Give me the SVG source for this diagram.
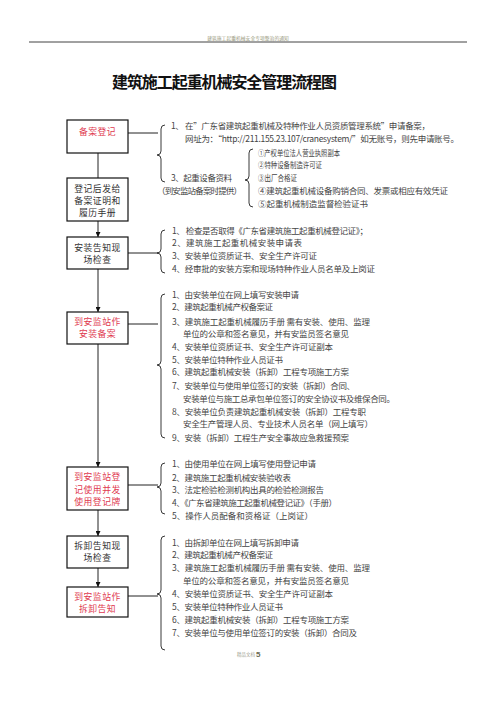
<svg xmlns="http://www.w3.org/2000/svg" width="496" height="702" viewBox="0 0 496 702">
<style>
.t{font-family:"Noto Sans CJK SC","Noto Sans",sans-serif;font-size:8.5px;fill:#444}
.b{font-family:"Noto Sans CJK SC","Noto Sans",sans-serif;font-size:8.8px;letter-spacing:0.5px;fill:#333;text-anchor:middle}
.r{fill:#e0394f}
.box{fill:#fff;stroke:#111;stroke-width:1.2}
.ln{fill:none;stroke:#222;stroke-width:1}
.br{fill:none;stroke:#222;stroke-width:0.9}
</style>
<defs>
<marker id="ah" viewBox="0 0 10 10" refX="10" refY="5" markerWidth="5" markerHeight="5" orient="auto" markerUnits="userSpaceOnUse">
<path d="M0,0 L10,5 L0,10 z" fill="#111"/>
</marker>
</defs>
<rect width="496" height="702" fill="#fff"/>
<text x="248" y="40" style="font-family:'Noto Sans CJK SC',sans-serif;font-size:4.8px;fill:#9a9a80;text-anchor:middle">建筑施工起重机械安全专项整治的通知</text>
<line x1="29" y1="42" x2="467" y2="42" stroke="#111" stroke-width="0.8"/>
<text x="112" y="88" style="font-family:'Noto Sans CJK SC',sans-serif;font-size:16px;font-weight:bold;fill:#111" textLength="225">建筑施工起重机械安全管理流程图</text>

<g id="connectors">
<line class="ln" x1="98" y1="153" x2="98" y2="178"/>
<line class="ln" x1="98" y1="221" x2="98" y2="237" marker-end="url(#ah)"/>
<line class="ln" x1="98" y1="269" x2="98" y2="312" marker-end="url(#ah)"/>
<line class="ln" x1="98" y1="344" x2="98" y2="467" marker-end="url(#ah)"/>
<line class="ln" x1="98" y1="510" x2="98" y2="536" marker-end="url(#ah)"/>
<line class="ln" x1="98" y1="568" x2="98" y2="587" marker-end="url(#ah)"/>
<line class="ln" x1="128" y1="133" x2="158" y2="133"/>
<line class="ln" x1="128" y1="253" x2="158" y2="253"/>
<line class="ln" x1="128" y1="324" x2="158" y2="324"/>
<line class="ln" x1="128" y1="485" x2="158" y2="485"/>
<line class="ln" x1="128" y1="596" x2="158" y2="596"/>
<path class="br" d="M165,125 Q161,125 161,129 L161,151 Q161,155 157,155 Q161,155 161,159 L161,178 Q161,182 165,182"/>
<path class="br" d="M253,149 Q249,149 249,153 L249,176 Q249,180 245,180 Q249,180 249,184 L249,203 Q249,207 253,207"/>
<path class="br" d="M165,230 Q161,230 161,234 L161,249 Q161,253 157,253 Q161,253 161,257 L161,269 Q161,273 165,273"/>
<path class="br" d="M165,294 Q161,294 161,298 L161,361 Q161,365 157,365 Q161,365 161,369 L161,434 Q161,438 165,438"/>
<path class="br" d="M165,463 Q161,463 161,467 L161,483 Q161,487 157,487 Q161,487 161,491 L161,510 Q161,514 165,514"/>
<path class="br" d="M165,536 Q161,536 161,540 L161,590 Q161,594 157,594 Q161,594 161,598 L161,646 Q161,650 165,650"/>
</g>

<g id="n1"><rect class="box" x="67" y="120" width="61" height="33"/><text class="b r" x="97.5" y="134.5">备案登记</text></g>
<g id="n2"><rect class="box" x="67" y="178" width="61" height="43"/>
<text class="b" x="97.5" y="192">登记后发给</text><text class="b" x="97.5" y="204">备案证明和</text><text class="b" x="97.5" y="216">履历手册</text></g>
<g id="n3"><rect class="box" x="67" y="237" width="61" height="32"/>
<text class="b" x="97.5" y="250.5">安装告知现</text><text class="b" x="97.5" y="262.5">场检查</text></g>
<g id="n4"><rect class="box" x="67" y="312" width="61" height="32"/>
<text class="b r" x="97.5" y="324.5">到安监站作</text><text class="b r" x="97.5" y="336.5">安装备案</text></g>
<g id="n5"><rect class="box" x="67" y="467" width="61" height="43"/>
<text class="b r" x="97.5" y="480">到安监站登</text><text class="b r" x="97.5" y="492.5">记使用并发</text><text class="b r" x="97.5" y="505">使用登记牌</text></g>
<g id="n6"><rect class="box" x="67" y="536" width="61" height="32"/>
<text class="b" x="97.5" y="548.5">拆卸告知现</text><text class="b" x="97.5" y="560.5">场检查</text></g>
<g id="n7"><rect class="box" x="67" y="587" width="61" height="30"/>
<text class="b r" x="97.5" y="599.5">到安监站作</text><text class="b r" x="97.5" y="612">拆卸告知</text></g>

<g id="list1">
<text class="t" x="171" y="129" textLength="259">1、 在”广东省建筑起重机械及特种作业人员资质管理系统”申请备案，</text>
<text class="t" x="185" y="142" textLength="274">网址为：“http://211.155.23.107/cranesystem/”如无账号，则先申请账号。</text>
<text class="t" x="171" y="181" textLength="61">3、起重设备资料</text>
<text class="t" x="157" y="194" textLength="85">（到安监站备案时提供）</text>
<text class="t" x="258" y="156" textLength="82" lengthAdjust="spacingAndGlyphs">①产权单位法人营业执照副本</text>
<text class="t" x="258" y="168" textLength="64" lengthAdjust="spacingAndGlyphs">②特种设备制造许可证</text>
<text class="t" x="258" y="181" textLength="39" lengthAdjust="spacingAndGlyphs">③出厂合格证</text>
<text class="t" x="258" y="194" textLength="190">④建筑起重机械设备购销合同、发票或相应有效凭证</text>
<text class="t" x="258" y="207" textLength="110">⑤起重机械制造监督检验证书</text>
</g>

<g id="list2">
<text class="t" x="172" y="234" textLength="196">1、 检查是否取得《广东省建筑施工起重机械登记证》；</text>
<text class="t" x="172" y="246" textLength="130">2、建筑施工起重机械安装申请表</text>
<text class="t" x="172" y="259" textLength="145">3、安装单位资质证书、安全生产许可证</text>
<text class="t" x="172" y="272" textLength="203">4、经审批的安装方案和现场特种作业人员名单及上岗证</text>
</g>

<g id="list3">
<text class="t" x="172" y="298" textLength="127">1、由安装单位在网上填写安装申请</text>
<text class="t" x="172" y="310" textLength="101">2、建筑起重机械产权备案证</text>
<text class="t" x="172" y="325" textLength="198">3、建筑施工起重机械履历手册 需有安装、使用、监理</text>
<text class="t" x="183" y="337" textLength="166">单位的公章和签名意见，并有安监员签名意见</text>
<text class="t" x="172" y="350" textLength="161">4、安装单位资质证书、安全生产许可证副本</text>
<text class="t" x="172" y="363" textLength="111">5、安装单位特种作业人员证书</text>
<text class="t" x="172" y="375" textLength="177">6、建筑起重机械安装（拆卸）工程专项施工方案</text>
<text class="t" x="172" y="389" textLength="183">7、安装单位与使用单位签订的安装（拆卸）合同、</text>
<text class="t" x="183" y="402" textLength="212">安装单位与施工总承包单位签订的安全协议书及维保合同。</text>
<text class="t" x="172" y="415" textLength="194">8、安装单位负责建筑起重机械安装（拆卸）工程专职</text>
<text class="t" x="183" y="427" textLength="190">安全生产管理人员、专业技术人员名单（网上填写）</text>
<text class="t" x="172" y="441" textLength="177">9、安装（拆卸）工程生产安全事故应急救援预案</text>
</g>

<g id="list4">
<text class="t" x="172" y="467" textLength="144">1、由使用单位在网上填写使用登记申请</text>
<text class="t" x="172" y="481" textLength="119">2、建筑施工起重机械安装验收表</text>
<text class="t" x="172" y="493" textLength="152">3、法定检验检测机构出具的检验检测报告</text>
<text class="t" x="172" y="506" textLength="165">4、《广东省建筑施工起重机械登记证》（手册）</text>
<text class="t" x="172" y="519" textLength="141">5、操作人员配备和资格证（上岗证）</text>
</g>

<g id="list5">
<text class="t" x="172" y="546" textLength="127">1、由拆卸单位在网上填写拆卸申请</text>
<text class="t" x="172" y="558" textLength="101">2、建筑起重机械产权备案证</text>
<text class="t" x="172" y="571" textLength="198">3、建筑施工起重机械履历手册 需有安装、使用、监理</text>
<text class="t" x="183" y="584" textLength="166">单位的公章和签名意见，并有安监员签名意见</text>
<text class="t" x="172" y="597" textLength="161">4、安装单位资质证书、安全生产许可证副本</text>
<text class="t" x="172" y="610" textLength="111">5、安装单位特种作业人员证书</text>
<text class="t" x="172" y="623" textLength="177">6、建筑起重机械安装（拆卸）工程专项施工方案</text>
<text class="t" x="172" y="636" textLength="185">7、安装单位与使用单位签订的安装（拆卸）合同及</text>
</g>

<text x="237" y="656" style="font-family:'Noto Sans CJK SC',sans-serif;font-size:4.5px;fill:#a0a090">精品文档</text>
<text x="256" y="657" style="font-family:'Liberation Sans',sans-serif;font-size:8px;font-weight:bold;fill:#6a6a50">5</text>
</svg>
